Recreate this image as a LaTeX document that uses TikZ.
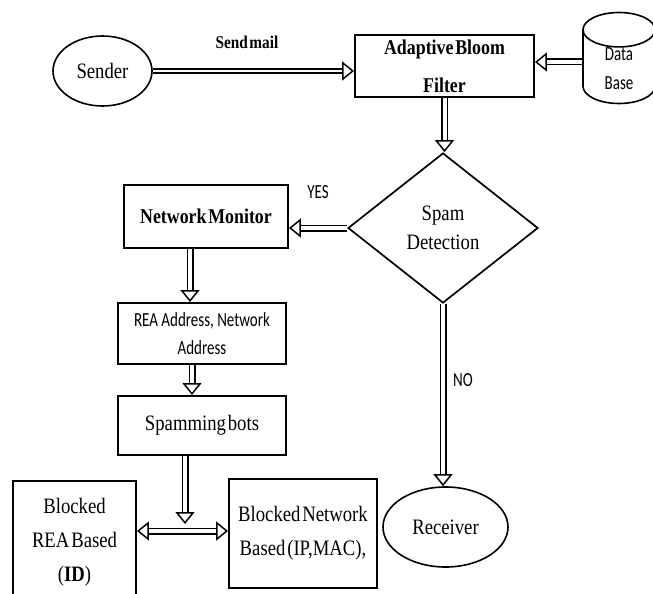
\documentclass[tikz,border=0pt]{standalone}
\usepackage{fontspec}
\setmainfont{Liberation Serif}[FakeStretch=0.85, WordSpace=0.4]
\newfontfamily\condsans[FakeStretch=0.75]{Carlito}
\usetikzlibrary{shapes.geometric,arrows.meta}

\begin{document}
\begin{tikzpicture}[
  x=1pt, y=-1pt,
  box/.style={draw, line width=1.9pt, inner sep=0pt, align=center, font=\fontsize{22}{34}\selectfont},
  oval/.style={draw, ellipse, line width=1.6pt, inner sep=0pt, font=\fontsize{22}{26}\selectfont},
  dbl/.style={double, double distance=4pt, line width=1.5pt, -{Triangle[open, length=12pt, width=19pt, line width=1.5pt, fill=white]}},
  tag/.style={font=\condsans\fontsize{20}{29}\selectfont}
]
\clip (0,0) rectangle (653,594);
\useasboundingbox (0,0) rectangle (653,594);

\node [oval, minimum width=99pt, minimum height=70pt] (snd) at (102.5,71) {Sender};
\node [box, minimum width=179pt, minimum height=62pt, font=\bfseries\fontsize{21}{38}\selectfont] (abf) at (444.5,66) {Adaptive Bloom\\Filter};
\node [draw, cylinder, shape border rotate=90, aspect=1.2, line width=1.6pt, minimum width=72pt, minimum height=91pt, inner sep=0pt, tag] (db) at (619,67) {\smash{\raisebox{-22pt}{\begin{tabular}[b]{@{}c@{}}Data\\Base\end{tabular}}}};
\node [draw, diamond, line width=1.7pt, minimum width=190pt, minimum height=150pt, inner sep=0pt, align=center, font=\fontsize{22}{29}\selectfont] (dia) at (443,228) {Spam\\Detection};
\node [box, minimum width=164pt, minimum height=63pt, font=\bfseries\fontsize{21}{24}\selectfont] (nm) at (206,216.5) {Network Monitor};
\node [box, minimum width=168pt, minimum height=61pt, font=\condsans\fontsize{20}{28}\selectfont] (rea) at (202,333.5) {REA Address, Network\\Address};
\node [box, minimum width=168pt, minimum height=59pt] (sp) at (202,425.5) {Spamming bots};
\node [box, minimum width=123pt, minimum height=123pt] (bra) at (74.5,542.5) {Blocked\\REA Based\\(\textbf{ID})};
\node [box, minimum width=148pt, minimum height=109pt] (brn) at (303,533.5) {Blocked Network\\Based (IP,MAC),};
\node [oval, minimum width=125pt, minimum height=80pt] (rcv) at (445.5,527) {Receiver};

\node [font=\bfseries\fontsize{18}{22}\selectfont] (sm) at (247,42) {Send mail};
\node [tag] (yes) at (318,192) {YES};
\node [tag] (no) at (463,380) {NO};

\coordinate (dbin) at ([yshift=5pt]db.west);
\coordinate (jn) at (185,531);

\draw [dbl, line width=2.2pt, double distance=2.5pt] (snd) -- (abf.west |- snd);
\draw [dbl] (dbin) -- (dbin -| abf.east);
\draw [dbl] (abf.south) -- (abf.south |- dia.north);
\draw [dbl] (dia.west) -- (dia.west -| nm.east);
\draw [dbl] ([xshift=-16pt]nm.south) -- ([xshift=-12pt]rea.north);
\draw [dbl] ([xshift=-10pt]rea.south) -- ([xshift=-10pt]sp.north);
\draw [dbl] ([xshift=-17pt]sp.south) -- ([yshift=7pt]jn);
\draw [dbl, {Triangle[open, length=12pt, width=19pt, line width=1.5pt, fill=white]}-{Triangle[open, length=12pt, width=19pt, line width=1.5pt, fill=white]}] (bra.east |- jn) -- (brn.west |- jn);
\draw [dbl] (dia.south) -- (dia.south |- rcv.north);
\end{tikzpicture}
\end{document}
